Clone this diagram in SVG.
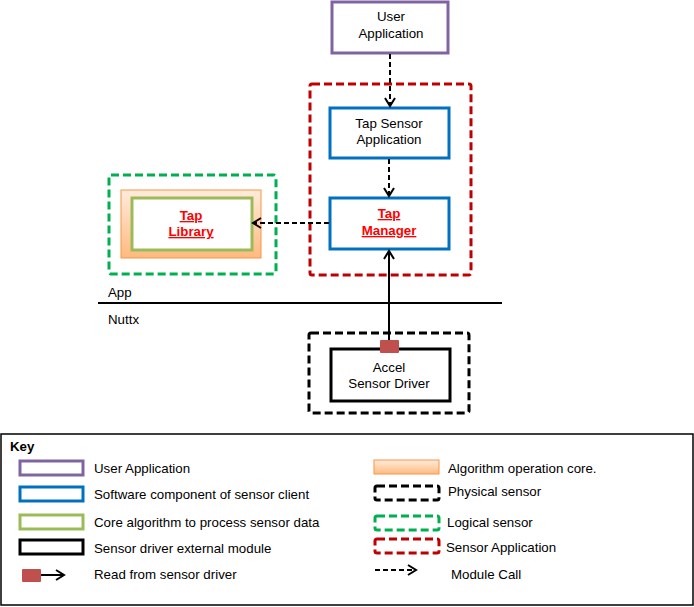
<svg xmlns="http://www.w3.org/2000/svg" width="694" height="607" viewBox="0 0 694 607">
<style>
text{font-family:"Liberation Sans",Arial,sans-serif;font-size:13.3px;fill:#000}
.c{text-anchor:middle}
.red{fill:#FF0000;font-weight:bold;text-decoration:underline}
.box{fill:#fff;stroke-width:3}
.purple{stroke:#8064A2}
.blue{stroke:#0070C0}
.green{stroke:#9BBB59}
.black{stroke:#000}
.dash{fill:none;stroke-width:3;stroke-dasharray:8 4}
.dred{stroke:#C00000}
.dgreen{stroke:#00B050}
.dblack{stroke:#000}
.call{fill:none;stroke:#000;stroke-width:2;stroke-dasharray:5 3}
.read{fill:none;stroke:#000;stroke-width:2}
</style>
<defs>
<linearGradient id="og" x1="0" y1="0" x2="0" y2="1">
<stop offset="0" stop-color="#FFEBDC"/>
<stop offset="1" stop-color="#FFBA80"/>
</linearGradient>
<marker id="ah" markerWidth="12" markerHeight="12" refX="10" refY="6" orient="auto" markerUnits="userSpaceOnUse">
<path d="M2,1 L10,6 L2,11" fill="none" stroke="#000" stroke-width="2"/>
</marker>
</defs>

<g id="sensor-application-group">
<rect class="dash dred" x="310" y="84" width="161" height="191" rx="2"/>
</g>
<g id="logical-sensor-group">
<rect class="dash dgreen" x="109" y="175" width="167" height="99" rx="2"/>
</g>
<g id="physical-sensor-group">
<rect class="dash dblack" x="309" y="333" width="160" height="80" rx="2"/>
</g>

<g id="user-application">
<rect class="box purple" x="332" y="2" width="116" height="51"/>
<text class="c" x="391" y="21">User</text>
<text class="c" x="391" y="38">Application</text>
</g>
<g id="tap-sensor-application">
<rect class="box blue" x="330" y="108" width="119" height="50"/>
<text class="c" x="389" y="128">Tap Sensor</text>
<text class="c" x="389" y="144">Application</text>
</g>
<g id="tap-manager">
<rect class="box blue" x="330" y="198" width="119" height="51"/>
<text class="c red" x="389" y="218">Tap</text>
<text class="c red" x="389" y="235">Manager</text>
</g>
<g id="tap-library">
<rect x="121" y="190" width="140" height="68" fill="url(#og)" stroke="#F79646" stroke-width="1"/>
<rect class="box green" x="132" y="198" width="120" height="52"/>
<text class="c red" x="191" y="220">Tap</text>
<text class="c red" x="191" y="236">Library</text>
</g>
<g id="accel-sensor-driver">
<rect class="box black" x="331" y="349" width="119" height="52"/>
<text class="c" x="389" y="372">Accel</text>
<text class="c" x="389" y="388">Sensor Driver</text>
</g>

<g id="layer-divider">
<line x1="98" y1="303" x2="502" y2="303" stroke="#000" stroke-width="2"/>
<text x="108" y="297">App</text>
<text x="108" y="324">Nuttx</text>
</g>

<g id="connectors">
<line class="call" x1="390" y1="54" x2="390" y2="106" marker-end="url(#ah)"/>
<line class="call" x1="389" y1="159" x2="389" y2="196" marker-end="url(#ah)"/>
<line class="call" x1="329" y1="223" x2="253" y2="223" marker-end="url(#ah)"/>
<line class="read" x1="389" y1="341" x2="389" y2="251" marker-end="url(#ah)"/>
<rect x="380" y="340" width="19" height="13" fill="#C0504D" rx="1"/>
</g>

<g id="key">
<rect x="1" y="434" width="692" height="171" fill="#fff" stroke="#000" stroke-width="1.5"/>
<text x="10" y="451" font-weight="bold">Key</text>
<rect class="box purple" x="20" y="461" width="63" height="14"/>
<text x="94" y="473">User Application</text>
<rect class="box blue" x="20" y="487" width="63" height="14"/>
<text x="94" y="499">Software component of sensor client</text>
<rect class="box green" x="20" y="515" width="63" height="14"/>
<text x="94" y="527">Core algorithm to process sensor data</text>
<rect class="box black" x="20" y="540" width="63" height="14"/>
<text x="94" y="553">Sensor driver external module</text>
<rect x="22" y="569" width="19" height="13" fill="#C0504D" rx="1"/>
<line class="read" x1="41" y1="575" x2="64" y2="575" marker-end="url(#ah)"/>
<text x="94" y="579">Read from sensor driver</text>

<rect x="374" y="460" width="65" height="14" fill="url(#og)" stroke="#F79646" stroke-width="1"/>
<text x="448" y="473">Algorithm operation core.</text>
<rect class="dash dblack" x="375" y="486" width="64" height="14" rx="2"/>
<text x="448" y="496">Physical sensor</text>
<rect class="dash dgreen" x="375" y="516" width="64" height="14" rx="2"/>
<text x="447" y="527">Logical sensor</text>
<rect class="dash dred" x="375" y="539" width="64" height="14" rx="2"/>
<text x="446" y="552">Sensor Application</text>
<line class="call" x1="375" y1="570" x2="416" y2="570" marker-end="url(#ah)"/>
<text x="451" y="579">Module Call</text>
</g>
</svg>
